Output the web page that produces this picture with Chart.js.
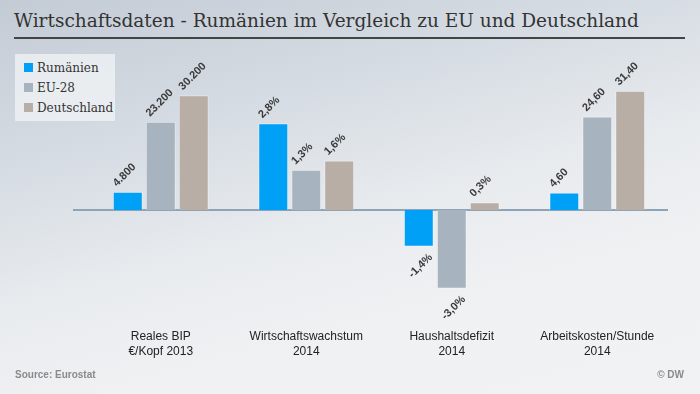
<!DOCTYPE html>
<html>
<head>
<meta charset="utf-8">
<script src="https://cdn.jsdelivr.net/npm/chart.js@4.4.1/dist/chart.umd.min.js"></script>
<style>
  html, body { margin: 0; padding: 0; }
  body {
    width: 700px; height: 394px; overflow: hidden; position: relative;
    background: linear-gradient(165deg, #c3cbd5 0%, #d6dce3 30%, #e9ecef 55%, #f0f1f3 75%, #f1f2f4 100%);
  }
  #title {
    position: absolute; left: 14px; top: 10px;
    font-family: 'DejaVu Serif', serif; font-size: 18.5px; color: #333;
    white-space: nowrap;
  }
  #rule { position: absolute; left: 14px; top: 37px; width: 671px; height: 2px; background: #444; }
  #legend {
    position: absolute; left: 15px; top: 54px; width: 100px; height: 67px;
    background: rgba(244, 246, 248, 0.7);
    font-family: 'DejaVu Serif', serif; font-size: 12px; color: #333;
  }
  #legend div { position: absolute; left: 9px; white-space: nowrap; }
  #legend span { display: inline-block; width: 9px; height: 9px; margin-right: 4px; vertical-align: 0px; }
  #source { position: absolute; left: 15px; top: 369px; font: bold 10px 'Liberation Sans', Arial, sans-serif; color: #8a8a8a; }
  #copy { position: absolute; right: 16px; top: 369px; font: bold 10px 'Liberation Sans', Arial, sans-serif; color: #8a8a8a; }
  canvas { position: absolute; left: 0; top: 0; }
</style>
</head>
<body>
<div id="title">Wirtschaftsdaten - Rumänien im Vergleich zu EU und Deutschland</div>
<div id="rule"></div>
<div id="legend"></div>
<canvas id="chart" width="700" height="394"></canvas>
<div id="source">Source: Eurostat</div>
<div id="copy">© DW</div>
<script>
const categories = [
    ['Reales BIP', '€/Kopf 2013'],
    ['Wirtschaftswachstum', '2014'],
    ['Haushaltsdefizit', '2014'],
    ['Arbeitskosten/Stunde', '2014']
]
const seriesNames = ['Rumänien', 'EU-28', 'Deutschland']
const seriesColors = ['#00a0f6', '#a7b4bf', '#b8aea5']

const rumaenien = [4800, 2.8, -1.4, 4.60]
const eu28 = [23200, 1.3, -3.0, 24.60]
const deutschland = [30200, 1.6, 0.3, 31.40]

// each group in the original has its own bar scale
const groupScale = [0.001, 8.15, 6.9, 1]

const fmtThousands = v => String(Math.round(v)).replace(/\B(?=(\d{3})+(?!\d))/g, '.')
const fmtPercent = v => v.toFixed(1).replace('.', ',') + '%'
const fmtDecimal = v => v.toFixed(2).replace('.', ',')
const groupFormat = [fmtThousands, fmtPercent, fmtPercent, fmtDecimal]

// legend
const legendBox = document.getElementById('legend')
seriesNames.forEach((name, i) => {
    const row = document.createElement('div')
    row.style.top = (7 + i * 20) + 'px'
    row.innerHTML = '<span style="background:' + seriesColors[i] + '"></span>' + name
    legendBox.appendChild(row)
})

const allSeries = [rumaenien, eu28, deutschland]

const data = {
    labels: categories,
    datasets: allSeries.map((values, i) => ({
        label: seriesNames[i],
        data: values.map((v, g) => v * groupScale[g]),
        rawValues: values,
        backgroundColor: seriesColors[i],
        borderColor: 'rgba(255,255,255,0.35)',
        borderWidth: 1,
        barPercentage: 0.91,
        categoryPercentage: 0.68
    }))
}

// zero line, a bit longer than the plot area
const zeroLine = {
    id: 'zeroLine',
    beforeDatasetsDraw(chart) {
        const { ctx, chartArea, scales } = chart
        const y0 = scales.y.getPixelForValue(0)
        ctx.save()
        ctx.strokeStyle = '#8fa3b6'
        ctx.lineWidth = 2
        ctx.beginPath()
        ctx.moveTo(chartArea.left - 15, y0)
        ctx.lineTo(chartArea.right - 2, y0)
        ctx.stroke()
        ctx.restore()
    }
}

// rotated value labels
const valueLabels = {
    id: 'valueLabels',
    afterDatasetsDraw(chart) {
        const ctx = chart.ctx
        ctx.save()
        ctx.font = 'bold 11px "Liberation Sans", Arial, sans-serif'
        ctx.fillStyle = '#3a3a3a'
        ctx.textBaseline = 'middle'
        chart.data.datasets.forEach((ds, di) => {
            chart.getDatasetMeta(di).data.forEach((bar, g) => {
                const v = ds.rawValues[g]
                const text = groupFormat[g](v)
                ctx.save()
                if (v >= 0) {
                    ctx.translate(bar.x - 13, bar.y - 7)
                    ctx.rotate(-Math.PI / 4)
                    ctx.textAlign = 'left'
                } else {
                    ctx.translate(bar.x + 12, bar.y + 9)
                    ctx.rotate(-Math.PI / 4)
                    ctx.textAlign = 'right'
                }
                ctx.fillText(text, 0, 0)
                ctx.restore()
            })
        })
        ctx.restore()
    }
}

const options = {
    responsive: false,
    animation: false,
    layout: { padding: { left: 88, right: 30, top: 58, bottom: 11 } },
    plugins: {
        legend: { display: false },
        tooltip: { enabled: false }
    },
    scales: {
        x: {
            grid: { display: false, drawTicks: false },
            border: { display: false },
            ticks: {
                color: '#222',
                font: { family: '"Liberation Sans", Arial, sans-serif', size: 12, lineHeight: 1.25 },
                padding: 24,
                maxRotation: 0,
                autoSkip: false
            }
        },
        y: {
            display: false,
            min: -25,
            max: 40
        }
    }
}

new Chart('chart', { type: 'bar', data, options, plugins: [zeroLine, valueLabels] })
</script>
</body>
</html>
